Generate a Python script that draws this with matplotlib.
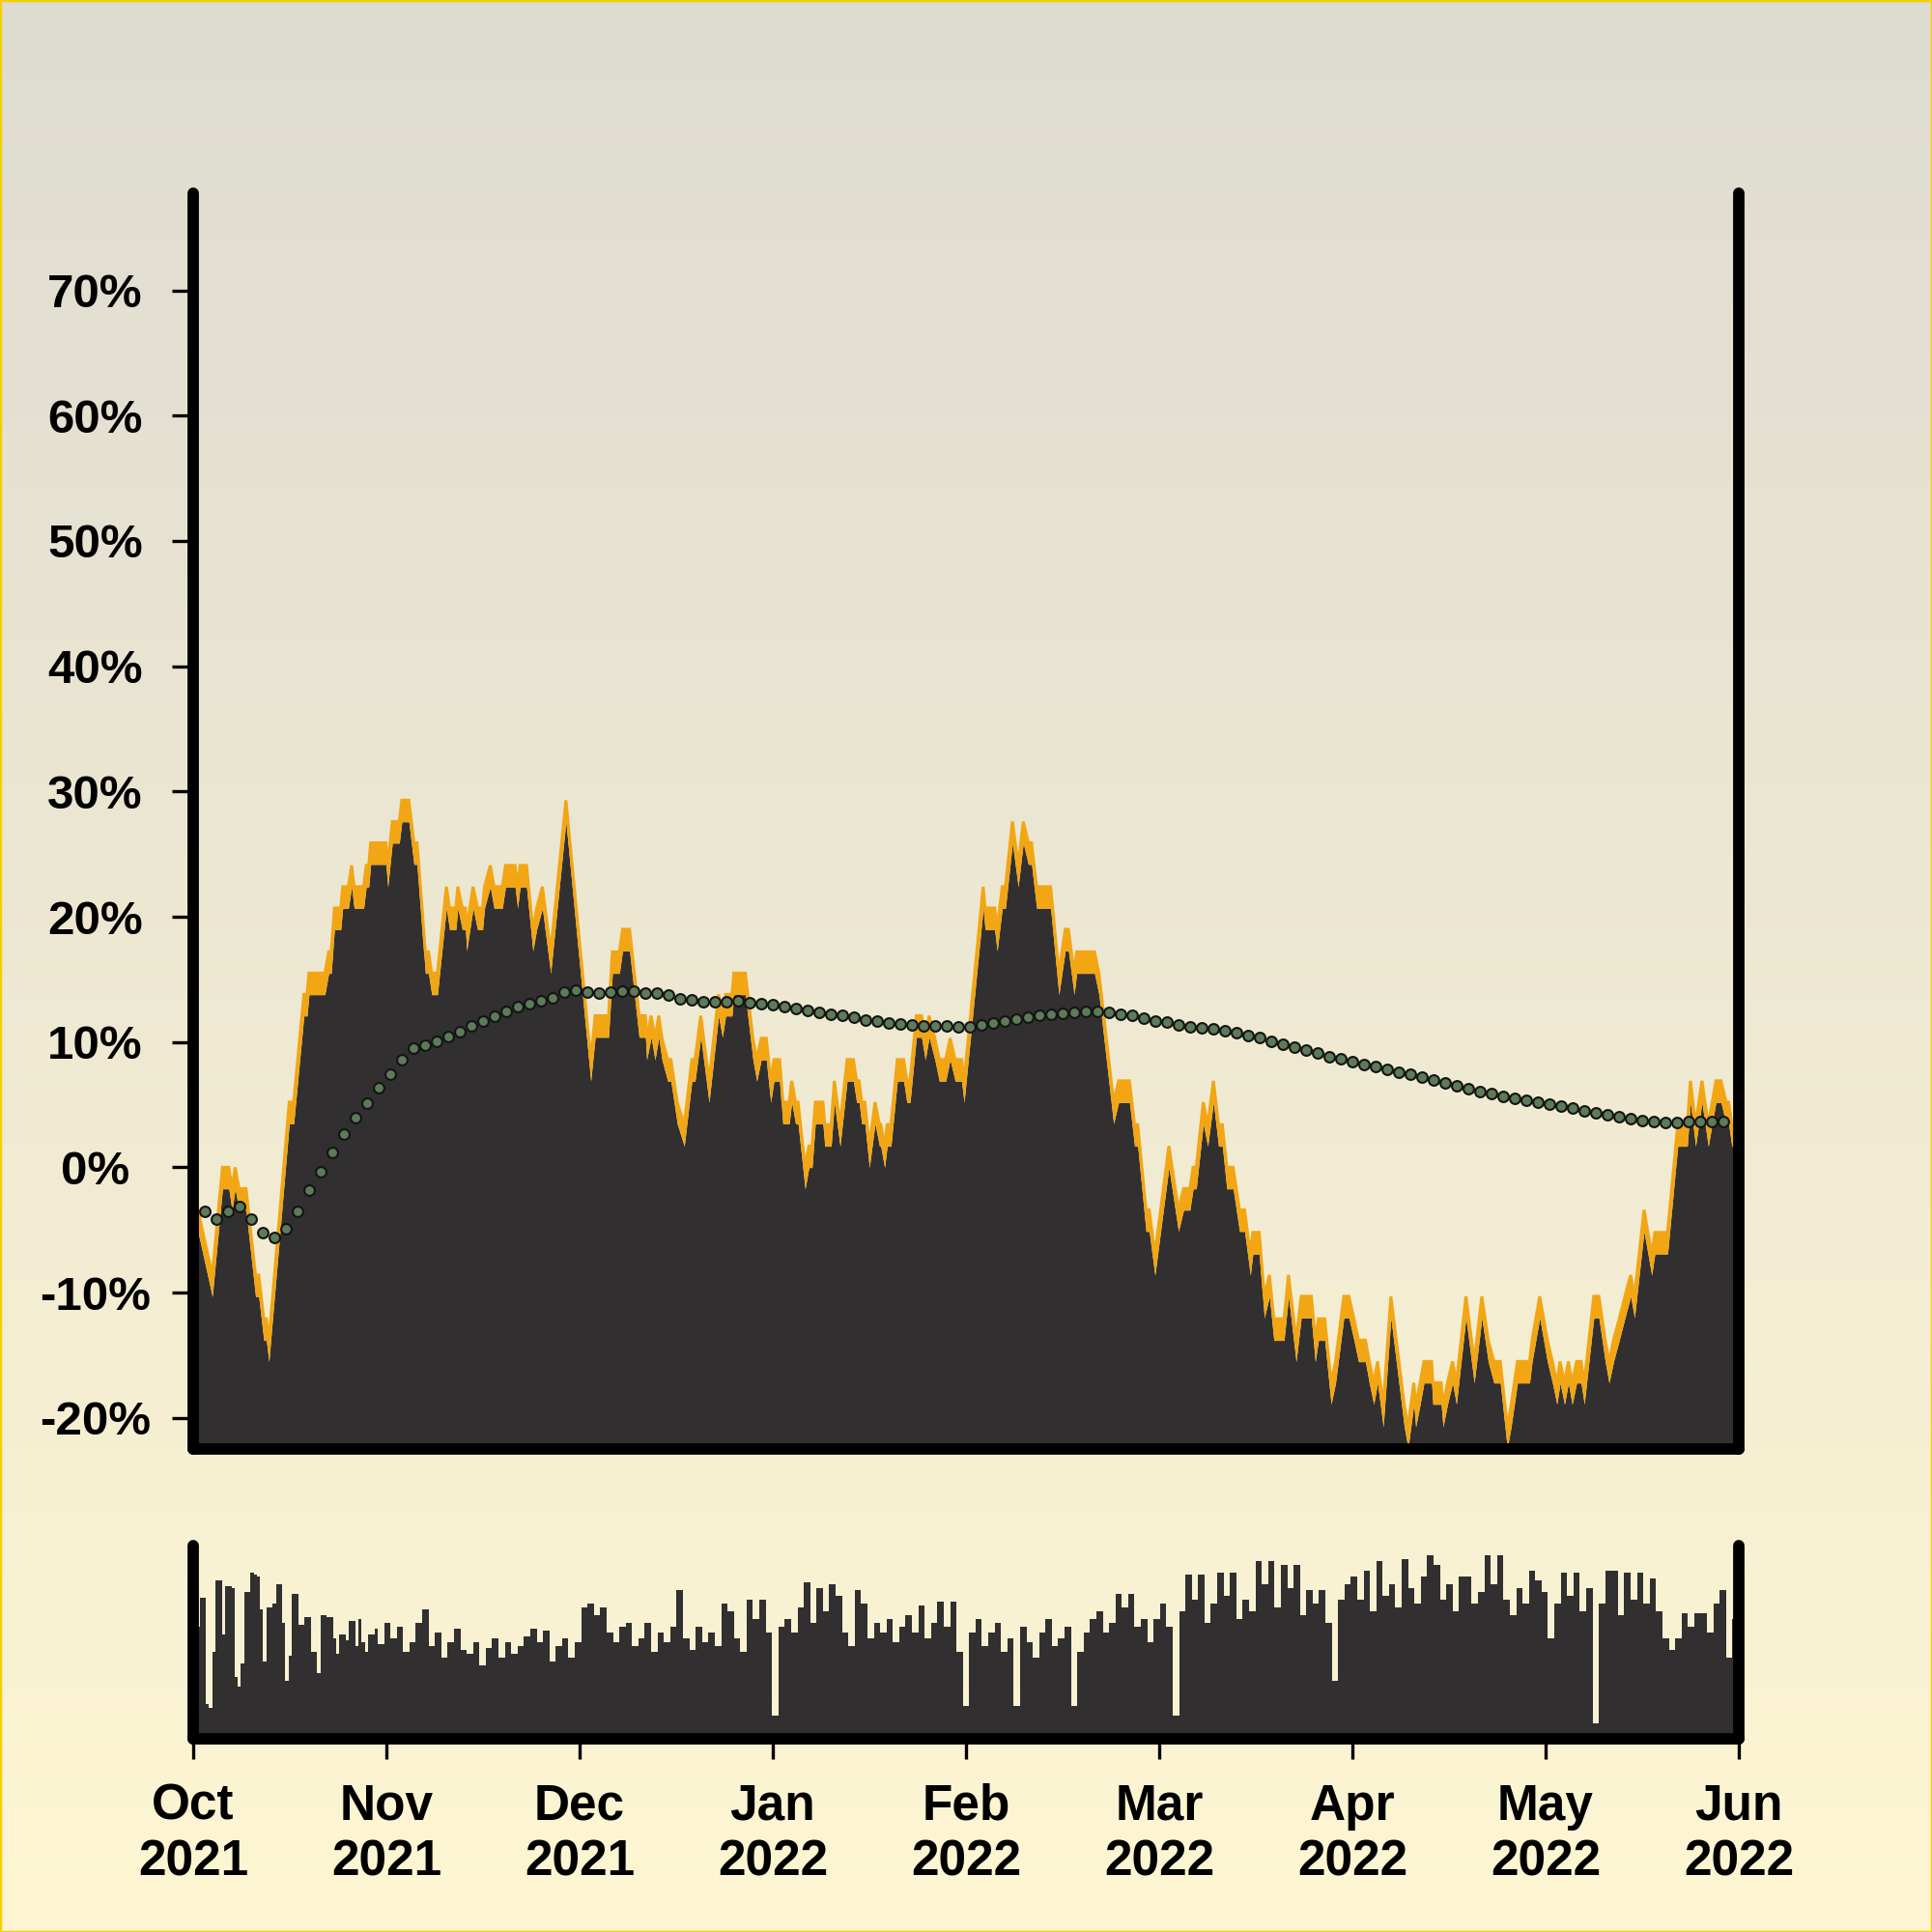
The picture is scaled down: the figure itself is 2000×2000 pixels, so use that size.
import numpy as np
import pandas as pd
import matplotlib
matplotlib.use("Agg")
import matplotlib.pyplot as plt
import matplotlib.dates as mdates
from matplotlib.patches import Rectangle

plt.rcParams['font.family'] = ['Liberation Sans', 'DejaVu Sans']
plt.rcParams['font.weight'] = 'bold'

start = pd.Timestamp('2021-10-01')
end = pd.Timestamp('2022-06-01')

# return path: (days since 1 Oct 2021, return %) at each turning point
ret_points = [
    (0, -1.7), (3.0, -8.6), (4.6, 0.0), (5.6, 0.0), (6.1, -1.7), (6.6, 0.0), (7.2, -1.7), (8.3, -1.7),
    (9.8, -8.6), (10.3, -8.6), (11.1, -12.1), (11.5, -12.1), (11.9, -13.8), (15.1, 5.2), (15.8, 5.2),
    (17.4, 13.8), (17.9, 13.8), (18.2, 15.5), (20.7, 15.5), (21.3, 17.2), (21.7, 17.2), (22.2, 20.7),
    (23.2, 20.7), (23.5, 22.4), (24.4, 22.4), (24.9, 24.1), (25.3, 22.4), (26.8, 22.4), (27.2, 24.1),
    (27.6, 24.1), (27.9, 25.9), (30.3, 25.9), (30.6, 24.1), (31.3, 27.6),
    # Nov
    (32.4, 27.6), (32.8, 29.3), (33.9, 29.3), (34.7, 25.9), (35.2, 25.9), (36.5, 17.2), (37.0, 17.2),
    (37.5, 15.5), (38.4, 15.5), (39.8, 22.4), (40.3, 20.7), (41.3, 20.7), (41.6, 22.4), (42.3, 20.7),
    (42.8, 20.7), (43.0, 19.0), (44.0, 22.4), (44.7, 20.7), (45.5, 20.7), (45.8, 22.4), (46.7, 24.1),
    (47.3, 22.4), (48.6, 22.4), (49.1, 24.1), (50.6, 24.1), (51.0, 22.4), (51.4, 24.1), (52.4, 24.1),
    (53.4, 19.0), (54.0, 20.7), (54.9, 22.4), (56.2, 17.2), (58.6, 29.3),
    # Dec
    (62.5, 8.6), (63.2, 12.1), (65.3, 12.1), (65.9, 17.2), (67.0, 17.2), (67.5, 19.0), (68.6, 19.0),
    (70.1, 12.1), (71.1, 12.1), (71.3, 10.3), (72.0, 12.1), (72.6, 10.3), (73.2, 12.1), (73.7, 10.3),
    (74.6, 8.6), (75.1, 8.6), (76.1, 5.2), (77.2, 3.4), (78.4, 8.6), (78.9, 8.6), (79.8, 12.1),
    (81.1, 6.9), (82.6, 13.8), (83.2, 12.1), (83.7, 13.8), (84.7, 13.8), (85.0, 15.5), (86.8, 15.5),
    (88.0, 10.3), (88.6, 8.6), (89.3, 10.3), (90.1, 10.3), (90.8, 6.9), (91.3, 8.6),
    # Jan
    (92.2, 8.6), (92.7, 5.2), (93.7, 5.2), (94.1, 6.9), (94.7, 5.2), (95.1, 5.2), (96.2, 0.0),
    (96.8, 1.7), (97.3, 1.7), (97.8, 5.2), (99.0, 5.2), (99.3, 3.4), (100.3, 3.4), (100.8, 6.9),
    (101.7, 3.4), (102.8, 8.6), (103.8, 8.6), (104.3, 6.9), (104.7, 6.9), (105.1, 5.2), (105.6, 5.2),
    (106.3, 1.7), (107.2, 5.2), (107.9, 3.4), (108.1, 3.4), (108.7, 1.7), (109.1, 3.4), (109.7, 3.4),
    (110.7, 8.6), (111.7, 8.6), (112.2, 6.9), (112.7, 6.9), (113.7, 12.1), (114.5, 12.1), (115.1, 10.3),
    (115.7, 12.1), (116.6, 10.3), (117.3, 8.6), (118.3, 8.6), (119.0, 10.3), (119.8, 8.6), (120.8, 8.6),
    (121.2, 6.9),
    # Feb
    (124.2, 22.4), (124.5, 20.7), (126.0, 20.7), (126.4, 19.0), (127.2, 22.4), (127.7, 22.4),
    (128.8, 27.6), (129.7, 24.1), (130.5, 27.6), (131.3, 25.9), (131.8, 25.9), (132.6, 22.4),
    (134.8, 22.4), (136.1, 15.5), (137.1, 19.0), (137.6, 19.0), (138.5, 15.5), (138.9, 17.2),
    (141.7, 17.2), (142.4, 15.5), (144.7, 5.2), (145.5, 6.9), (147.2, 6.9), (148.0, 3.4), (148.5, 3.4),
    (149.8, -3.4), (150.3, -3.4), (151.2, -6.9),
    # Mar
    (153.4, 1.7), (154.9, -3.4), (155.7, -1.7), (156.7, -1.7), (157.2, 0.0), (157.7, 0.0), (158.8, 5.2),
    (159.5, 3.4), (160.4, 6.9), (161.2, 3.4), (161.8, 3.4), (162.5, 0.0), (163.5, 0.0), (164.5, -3.4),
    (165.3, -3.4), (166.2, -6.9), (166.6, -5.2), (167.6, -5.2), (168.4, -10.3), (169.2, -8.6),
    (169.9, -12.1), (171.5, -12.1), (172.2, -8.6), (173.4, -13.8), (174.2, -10.3), (175.8, -10.3),
    (176.4, -13.8), (176.9, -12.1), (177.9, -12.1), (178.9, -17.2), (179.6, -15.5), (180.9, -10.3),
    (181.7, -10.3), (182.5, -12.1),
    # Apr
    (183.2, -13.8), (184.3, -13.8), (184.9, -15.5), (185.6, -17.2), (186.2, -15.5), (187.1, -19.0),
    (188.3, -10.3), (190.4, -19.0), (191.0, -20.7), (191.9, -17.2), (192.2, -19.0), (192.9, -17.2),
    (193.5, -15.5), (194.7, -15.5), (194.9, -17.2), (196.2, -17.2), (196.5, -19.0), (197.2, -17.2),
    (198.0, -15.5), (198.6, -17.2), (200.1, -10.3), (201.4, -15.5), (202.6, -10.3), (203.6, -13.8),
    (204.5, -15.5), (205.5, -15.5), (206.6, -20.7), (207.2, -19.0), (208.2, -15.5), (210.1, -15.5),
    (210.5, -13.8), (211.7, -10.3), (212.9, -13.8), (213.7, -15.5), (214.4, -17.2), (214.9, -15.5),
    (215.6, -17.2), (216.2, -15.5), (216.8, -17.2), (217.5, -15.5), (218.2, -15.5), (218.7, -17.2),
    (220.2, -10.3), (221.0, -10.3), (222.0, -13.8), (222.6, -15.5), (223.3, -13.8), (224.2, -12.1),
    (225.1, -10.3), (226.0, -8.6), (226.6, -10.3), (228.1, -3.4), (229.3, -6.9), (229.8, -5.2),
    (231.8, -5.2), (233.4, 3.4), (234.9, 3.4), (235.4, 6.9), (236.2, 3.4), (237.2, 6.9), (238.2, 3.4),
    (239.4, 6.9), (240.2, 6.9), (241.0, 5.2), (241.4, 5.2), (241.9, 3.4), (243.0, 3.4),
]
band_pct = 1.72  # height of the orange band under the line

# running average, one dot every ~44 hours
avg_step_days = 1.8225
avg_pct = [
    -3.5, -4.1, -3.5, -3.15, -4.1, -5.2, -5.6, -4.9, -3.5, -1.8,
    -0.33, 1.15, 2.67, 3.98, 5.15, 6.38, 7.45, 8.62, 9.48, 9.76,
    10.03, 10.43, 10.79, 11.25, 11.70, 12.09, 12.45, 12.80, 13.03, 13.32,
    13.50, 13.98, 14.11, 13.98, 13.92, 13.98, 14.08, 14.04, 13.92, 13.88,
    13.73, 13.48, 13.34, 13.23, 13.23, 13.20, 13.27, 13.16, 13.05, 12.98,
    12.84, 12.67, 12.49, 12.35, 12.21, 12.10, 11.96, 11.78, 11.64, 11.50,
    11.43, 11.39, 11.32, 11.29, 11.25, 11.22, 11.22, 11.40, 11.53, 11.67,
    11.82, 12.00, 12.14, 12.24, 12.31, 12.38, 12.42, 12.45, 12.35, 12.24,
    12.14, 11.93, 11.70, 11.57, 11.39, 11.22, 11.15, 11.07, 10.93, 10.76,
    10.55, 10.33, 10.09, 9.84, 9.59, 9.38, 9.13, 8.84, 8.67, 8.46,
    8.24, 8.02, 7.80, 7.60, 7.40, 7.20, 6.98, 6.76, 6.52, 6.26,
    6.02, 5.85, 5.68, 5.52, 5.36, 5.20, 5.05, 4.88, 4.70, 4.52,
    4.34, 4.18, 4.02, 3.86, 3.72, 3.67, 3.59, 3.55, 3.65, 3.67,
    3.67, 3.67,
]

# activity bars: October in half days, then whole days
bars_oct = [58, 58, 73, 73, 18, 16, 45, 82, 82, 54, 79, 79, 78, 32, 27, 39, 76, 76, 86, 85,
            84, 67, 40, 68, 68, 70, 80, 80, 60, 30, 43, 75, 75, 59, 59, 63, 63, 45, 45, 34,
            64, 64, 63, 63, 52, 44, 54, 54, 51, 61, 61, 48, 62, 50, 45, 54, 54, 57, 49, 49,
            60, 60]
bars_nov = [52, 58, 45, 50, 60, 67, 48, 55, 42, 50, 57, 46, 44, 50, 38, 47, 52, 42, 50, 44,
            48, 53, 57, 50, 56, 40, 48, 52, 42, 50]
bars_dec = [68, 70, 64, 68, 55, 50, 58, 60, 48, 52, 60, 45, 55, 50, 58, 77, 52, 46, 58, 50,
            55, 48, 70, 66, 52, 45, 72, 62, 72, 55, 12]
bars_jan = [58, 62, 55, 68, 81, 60, 78, 66, 80, 74, 55, 48, 77, 70, 52, 60, 55, 62, 50, 58,
            64, 55, 69, 52, 60, 71, 58, 71, 45, 17, 55]
bars_feb = [62, 48, 55, 60, 45, 52, 17, 58, 50, 42, 55, 62, 48, 52, 58, 17, 45, 55, 62, 66,
            55, 60, 75, 68, 75, 58, 62, 50]
bars_mar = [62, 70, 58, 12, 66, 85, 72, 85, 60, 70, 86, 74, 86, 62, 72, 66, 92, 80, 92, 68,
            90, 78, 90, 64, 77, 70, 77, 60, 30, 72, 80]
bars_apr = [84, 72, 87, 66, 92, 74, 80, 68, 93, 78, 70, 84, 95, 90, 72, 80, 66, 84, 84, 70,
            76, 95, 80, 95, 72, 64, 78, 70, 87, 82]
bars_may = [76, 52, 70, 86, 74, 86, 66, 78, 8, 70, 87, 87, 64, 86, 72, 86, 70, 83, 66, 52,
            46, 52, 65, 58, 65, 65, 55, 70, 77, 42, 62]

month_labels = ['Oct\n2021', 'Nov\n2021', 'Dec\n2021', 'Jan\n2022', 'Feb\n2022',
                'Mar\n2022', 'Apr\n2022', 'May\n2022', 'Jun\n2022']

ORANGE = '#f2a614'
DARK = '#312f30'
DOT = '#5d7b58'

t0 = mdates.date2num(start)
t1 = mdates.date2num(end)
rd = np.array([p[0] for p in ret_points]) + t0
rv = np.array([p[1] for p in ret_points])
ad = t0 + avg_step_days * np.arange(1, len(avg_pct) + 1)
bars_daily = bars_nov + bars_dec + bars_jan + bars_feb + bars_mar + bars_apr + bars_may
bx = np.concatenate([t0 + 0.5 * np.arange(len(bars_oct)),
                     t0 + 31 + np.arange(len(bars_daily))])
bw = np.concatenate([np.full(len(bars_oct), 0.5), np.full(len(bars_daily), 1.0)])
bv = np.array(bars_oct + bars_daily)

fig = plt.figure(figsize=(20, 20), dpi=100)

# background gradient
bg = fig.add_axes([0, 0, 1, 1], zorder=-10)
top_c = np.array([0.871, 0.859, 0.820])
bot_c = np.array([0.996, 0.965, 0.827])
g = np.linspace(0, 1, 256)[:, None, None]
bg.imshow(top_c + (bot_c - top_c) * g, aspect='auto', extent=[0, 1, 0, 1])
bg.axis('off')

ax = fig.add_axes([0.1, 0.25, 0.8, 0.65])
ax.set_facecolor('none')
ymin, ymax = -22.49, 77.76
ax.fill_between(rd, ymin - 10, rv - band_pct, color=DARK, lw=0, zorder=1)
ax.fill_between(rd, rv - band_pct, rv, color=ORANGE, lw=0, zorder=1.5)
ax.plot(rd, rv, color=ORANGE, lw=2.2, solid_joinstyle='miter', zorder=2)
ax.plot(ad, avg_pct, ls='none', marker='o', ms=7.8, mfc=DOT, mec='#141414', mew=1.5, zorder=3)
ax.set_ylim(ymin, ymax)
ax.set_xlim(t0, t1)

yt = list(range(-20, 80, 10))
ax.set_yticks(yt)
ax.set_yticklabels([f'{v}%' for v in yt], ha='center')
ax.tick_params(axis='y', length=16, width=2.4, pad=57, labelsize=35.5, colors='black')
ax.tick_params(axis='x', bottom=False, labelbottom=False)

ax2 = fig.add_axes([0.1, 0.1, 0.8, 0.1])
ax2.set_facecolor('none')
ax2.bar(bx, bv, width=bw, align='edge', color=DARK, lw=0)
ax2.set_ylim(0, 100)
ax2.set_xlim(t0, t1)
ax2.set_yticks([])
# month labels sit on evenly spaced ticks
ax2.set_xticks(np.linspace(t0, t1, len(month_labels)), month_labels)
for lab in ax2.get_xticklabels():
    lab.set_linespacing(1.23)
ax2.tick_params(axis='x', length=15, width=2.4, pad=18, labelsize=37, colors='black')

for a in (ax, ax2):
    a.spines['top'].set_visible(False)
    for s in ('left', 'right', 'bottom'):
        a.spines[s].set_linewidth(8.5)
        a.spines[s].set_color('black')
        a.spines[s].set_capstyle('round')
        a.spines[s].set_zorder(5)

fig.patches.append(Rectangle((0, 0), 1, 1, transform=fig.transFigure, fill=False,
                             ec='#f5d000', lw=2.5))

fig.savefig('out.png', dpi=100)
